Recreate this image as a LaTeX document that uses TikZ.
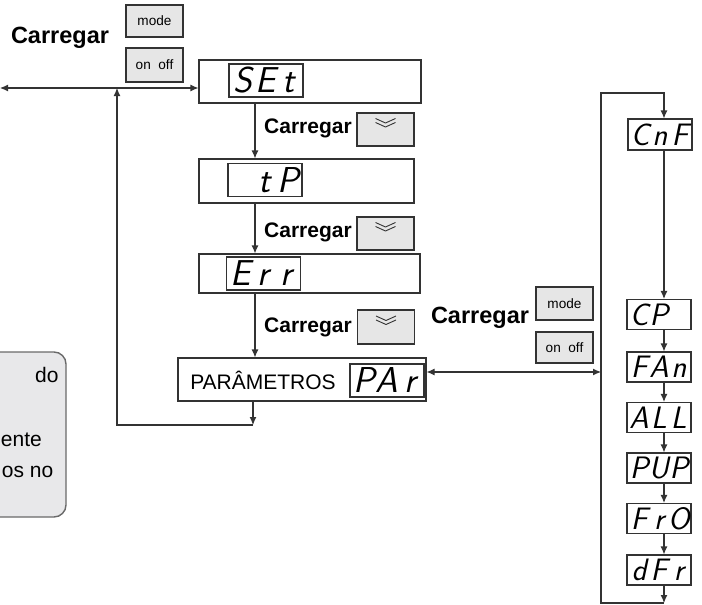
\documentclass[tikz,border=0pt]{standalone}
\usepackage{fontspec}
\setmainfont{Liberation Sans}
\usetikzlibrary{arrows.meta}
\definecolor{ink}{HTML}{333333}
\definecolor{keyfill}{HTML}{E6E6E6}
\definecolor{notefill}{HTML}{E8E8EA}
\definecolor{notegray}{HTML}{6A6A6A}
% three fixed digit places of the display
\newcommand{\segs}[3]{\makebox[0.64em]{#1}\makebox[0.64em]{#2}\makebox[0.64em]{#3}}

\begin{document}
\begin{tikzpicture}[x=0.5pt, y=-0.5pt, >={Latex[length=4pt,width=3.5pt]},
  frame/.style={draw=ink, line width=0.55pt, inner sep=0pt},
  dsp/.style={frame, fill=white, minimum width=37pt, minimum height=16.5pt,
    font=\sffamily\itshape\fontsize{18}{18}\selectfont},
  dsps/.style={frame, fill=white, minimum width=32pt, minimum height=15pt,
    font=\sffamily\itshape\fontsize{15.5}{15.5}\selectfont},
  keybox/.style={frame, fill=keyfill, line width=0.8pt, minimum width=28.5pt,
    font=\fontsize{6.8}{7}\selectfont},
  press/.style={font=\bfseries\fontsize{10.5}{11}\selectfont},
  plain/.style={font=\fontsize{10.5}{11}\selectfont},
  link/.style={draw=ink, line width=0.55pt}]
  \useasboundingbox (0,0) rectangle (702,605);
  % note box, cut off at the left edge
  \begin{scope}
    \clip (0,0) rectangle (702,605);
    \draw[draw=notegray, fill=notefill, line width=0.7pt, rounded corners=6pt]
      (-40,352) rectangle (66,517);
  \end{scope}
  \node[plain, inner sep=0pt, anchor=east] (notea) at (59,375) {do};
  \node[plain, inner sep=0pt, anchor=west] (noteb) at (0.5,440) {ente};
  \node[plain, inner sep=0pt, anchor=west] (notec) at (1.5,472) {os no};
  % keys at the top left
  \node[press, font=\bfseries\fontsize{11.75}{12}\selectfont] (cl1) at (60,38) {Carregar};
  \node[keybox, minimum height=16pt] (mode1) at (154.5,21) {mode};
  \node[keybox, minimum height=17pt] (onoff1) at (154.5,65) {on~~off};
  % main menu
  \node[frame, minimum width=111pt, minimum height=21.5pt] (set) at (310,81.5) {};
  \node[dsp] (setd) at (266,80.5) {\segs{S}{E}{t}};
  \node[frame, minimum width=107.5pt, minimum height=22pt] (tp) at (306.5,181) {};
  \node[dsp] (tpd) at (265,180) {\segs{}{t}{P}};
  \node[frame, minimum width=110.5pt, minimum height=19.5pt] (err) at (309.5,273.5) {};
  \node[dsp] (errd) at (263.5,273.5) {\segs{E}{r}{r}};
  \node[frame, minimum width=124pt, minimum height=21.5pt] (par) at (302,379.5) {};
  \node[dsp] (pard) at (387,380.5) {\segs{P}{A}{r}};
  \node[plain] (partxt) at (263,380) {PARÂMETROS};
  % down keys
  \node[press] (cl2) at (308,128) {Carregar};
  \node[keybox, minimum height=16.5pt] (dn1) at (385.5,129.5) {};
  \node[press] (cl3) at (308,232) {Carregar};
  \node[keybox, minimum height=16.5pt] (dn2) at (385.5,233.5) {};
  \node[press] (cl4) at (308,327) {Carregar};
  \node[keybox, minimum height=17pt] (dn3) at (386,327) {};
  \foreach \b in {dn1,dn2,dn3}
    \draw[ink, line width=0.45pt]
      ([shift={(-10,-11)}]\b.center) -- ([shift={(0,-6.5)}]\b.center) -- ([shift={(10,-11)}]\b.center)
      ([shift={(-10,-7)}]\b.center) -- ([shift={(0,-2.5)}]\b.center) -- ([shift={(10,-7)}]\b.center);
  % keys into the parameter list
  \node[press, font=\bfseries\fontsize{11.75}{12}\selectfont] (cl5) at (480,318) {Carregar};
  \node[keybox, minimum height=16.5pt] (mode2) at (564.5,303.5) {mode};
  \node[keybox, minimum height=15.5pt] (onoff2) at (564.5,347.5) {on~~off};
  % parameter list
  \node[dsps, minimum height=15.5pt] (cnf) at (660,134.5) {\segs{C}{n}{F}};
  \node[dsps] (cp)  at (659,314.5) {\segs{C}{P}{}};
  \node[dsps] (fan) at (659,367)   {\segs{F}{A}{n}};
  \node[dsps] (all) at (659,417.5) {\segs{A}{L}{L}};
  \node[dsps] (pup) at (659,468)   {\segs{P}{U}{P}};
  \node[dsps] (fro) at (659,518.5) {\segs{F}{r}{O}};
  \node[dsps] (dfr) at (659,570)   {\segs{d}{F}{r}};
  % connector points
  \coordinate (lft) at (0,88);
  \coordinate (spine) at (255,0);
  \coordinate (back) at (117,425);
  \coordinate (pb) at (253,425);
  \coordinate (rarr) at (601,372);
  \coordinate (rtop) at (601,93);
  \coordinate (rbot) at (601,603);
  \coordinate (rsp) at (664,0);
  % connectors
  \draw[link, <->] (lft) -- (lft -| set.west);
  \draw[link, ->] (set.south -| spine) -- (tp.north -| spine);
  \draw[link, ->] (tp.south -| spine) -- (err.north -| spine);
  \draw[link, ->] (err.south -| spine) -- (par.north -| spine);
  \draw[link, ->] (par.south -| pb) -- (pb);
  \draw[link, ->] (pb) -- (back) -- (back |- lft);
  \draw[link, <->] (par.east |- rarr) -- (rarr);
  \draw[link, ->] (rsp |- rbot) -- (rbot) -- (rtop) -| (cnf.north -| rsp);
  \draw[link, ->] (cnf.south -| rsp) -- (cp.north -| rsp);
  \foreach \a/\b in {cp/fan, fan/all, all/pup, pup/fro, fro/dfr}
    \draw[link, ->] (\a.south -| rsp) -- (\b.north -| rsp);
  \draw[link, ->] (dfr.south -| rsp) -- (rsp |- rbot);
\end{tikzpicture}
\end{document}
